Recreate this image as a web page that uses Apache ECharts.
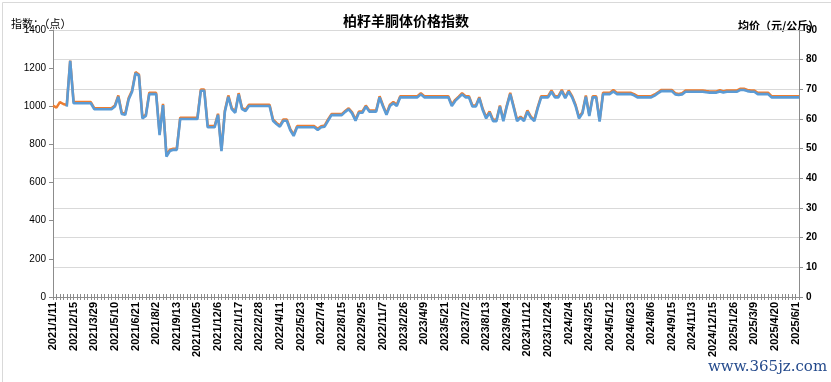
<!DOCTYPE html>
<html>
<head>
<meta charset="utf-8">
<script src="https://cdn.jsdelivr.net/npm/echarts@6/dist/echarts.min.js"></script>
<style>html,body{margin:0;padding:0;background:#fff;}#c{width:831px;height:382px;}</style>
</head>
<body>
<div id="c"></div>
<script>
// Labelled x-axis dates (every 6th category)
const labeledDates = ['2021/1/11','2021/2/15','2021/3/29','2021/5/10','2021/6/21','2021/8/2','2021/9/13','2021/10/25','2021/12/6','2022/1/17','2022/2/28','2022/4/11','2022/5/23','2022/7/4','2022/8/15','2022/9/25','2022/11/7','2023/2/26','2023/4/9','2023/5/21','2023/7/2','2023/8/13','2023/9/24','2023/11/12','2023/12/24','2024/2/4','2024/3/25','2024/5/12','2024/6/23','2024/8/6','2024/9/15','2024/11/3','2024/12/15','2025/1/26','2025/3/9','2025/4/20','2025/6/1'];

// 均价（元/公斤） – right axis
const priceValues = [
null,null,null,null,64.2,79.6,65.3,65.3,65.3,65.3,
65.3,65.3,63.3,63.3,63.3,63.3,63.3,63.3,64.2,67.5,
61.7,61.4,66.6,69.2,75.4,74.6,60.2,61.0,68.4,68.4,
68.4,54.6,64.7,47.3,49.2,49.6,49.6,60.0,60.0,60.0,
60.0,60.0,60.0,69.5,69.5,57.2,57.2,57.2,61.4,49.2,
62.5,67.5,63.3,62.1,68.3,63.3,62.7,64.4,64.4,64.4,
64.4,64.4,64.4,64.4,59.4,58.3,57.4,59.4,59.4,56.3,
54.3,57.2,57.2,57.2,57.2,57.2,57.2,56.3,57.2,57.4,
59.4,61.3,61.3,61.3,61.3,62.4,63.3,61.9,59.4,62.1,
62.1,64.2,62.5,62.5,62.5,67.3,64.2,61.4,64.4,65.3,
64.4,67.3,67.3,67.3,67.3,67.3,67.3,68.3,67.3,67.3,
67.3,67.3,67.3,67.3,67.3,67.3,64.4,66.1,67.2,68.3,
67.3,67.3,64.2,64.2,67.0,63.0,60.2,62.1,59.3,59.3,
64.2,59.3,64.2,68.4,63.9,59.3,60.4,59.3,62.5,60.4,
59.3,63.6,67.3,67.3,67.3,69.2,67.3,67.3,69.4,67.0,
69.2,67.3,64.4,60.2,61.9,67.5,61.0,67.3,67.3,59.1,
68.4,68.4,68.4,69.3,68.4,68.4,68.4,68.4,68.4,68.0,
67.3,67.3,67.3,67.3,67.3,67.9,68.7,69.4,69.4,69.4,
69.4,68.3,68.1,68.3,69.2,69.2,69.2,69.2,69.2,69.2,
69.0,68.9,68.9,68.9,69.3,68.9,69.2,69.2,69.2,69.2,
69.8,69.8,69.4,69.2,69.2,68.4,68.4,68.4,68.4,67.3,
67.3,67.3,67.3,67.3,67.3,67.3,67.3,67.3
];

// 指数（点） – left axis
const indexValues = [
1003,993,1022,1012,1006,1240,1022,1022,1022,1022,
1022,1022,990,990,990,990,990,990,1004,1057,
966,961,1043,1083,1179,1167,943,955,1071,1071,
1071,856,1013,742,772,777,777,940,940,940,
940,940,940,1088,1088,896,896,896,961,772,
978,1057,990,973,1069,990,982,1008,1008,1008,
1008,1008,1008,1008,931,913,899,931,931,882,
851,896,896,896,896,896,896,882,896,899,
931,959,959,959,959,976,990,968,931,973,
973,1004,978,978,978,1053,1004,961,1008,1022,
1008,1053,1053,1053,1053,1053,1053,1069,1053,1053,
1053,1053,1053,1053,1053,1053,1008,1034,1051,1069,
1053,1053,1004,1004,1048,987,943,973,929,929,
1004,929,1004,1071,1000,929,946,929,978,946,
929,996,1053,1053,1053,1083,1053,1053,1086,1048,
1083,1053,1008,943,969,1057,955,1053,1053,925,
1071,1071,1071,1085,1071,1071,1071,1071,1071,1064,
1053,1053,1053,1053,1053,1062,1074,1086,1086,1086,
1086,1069,1065,1069,1083,1083,1083,1083,1083,1083,
1080,1078,1078,1078,1085,1078,1083,1083,1083,1083,
1092,1092,1086,1083,1083,1071,1071,1071,1071,1053,
1053,1053,1053,1053,1053,1053,1053,1053
];

// Build weekly categories from the labelled anchors (6 per label, one extra at the end)
function fmt(d){return d.getFullYear()+'/'+(d.getMonth()+1)+'/'+d.getDate();}
const categories = [];
labeledDates.forEach(function(s, k){
  const p = s.split('/').map(Number);
  const steps = (k === labeledDates.length - 1) ? 2 : 6;
  for (let j = 0; j < steps; j++) {
    categories.push(j === 0 ? s : fmt(new Date(p[0], p[1]-1, p[2] + 7*j)));
  }
});

const FONT = '"Liberation Sans","Noto Sans CJK SC",sans-serif';
const CJK = '"Noto Sans CJK SC",sans-serif';
const axisGray = '#8c8c8c';

const chart = echarts.init(document.getElementById('c'), null, {renderer:'canvas'});
chart.setOption({
  animation: false,
  backgroundColor: '#fff',
  grid: {left: 53, right: 32, top: 30, bottom: 85, containLabel: false},
  title: {
    text: '柏籽羊胴体价格指数', left: 338, top: 9,
    textStyle: {fontFamily: CJK, fontSize: 14, fontWeight: 'bold', color: '#000'}
  },
  graphic: [
    {type:'rect', left:0, top:0, shape:{x:0.5,y:0.5,width:829,height:380}, style:{fill:'none', stroke:'#d9d9d9', lineWidth:1}, silent:true, z:-1},
    {type:'text', left:11, top:18, style:{text:'指数：（点）', font:'11px "Noto Sans CJK SC"', fill:'#000'}},
    {type:'text', left:738, top:20, style:{text:'均价（元/公斤）', font:'bold 11px "Noto Sans CJK SC"', fill:'#000'}},
    {type:'text', left:708, top:360, style:{text:'www.365jz.com', font:'15px "DejaVu Serif"', fill:'#244a8c'}}
  ],
  xAxis: [{
    type: 'category', data: categories, boundaryGap: false,
    axisLine: {lineStyle: {color: axisGray}},
    axisTick: {show: true, interval: 0, length: 3, lineStyle: {color: axisGray}},
    axisLabel: {interval: 5, rotate: 90, margin: 5, fontFamily: FONT, fontSize: 11, fontWeight: 'bold', color: '#000'},
    splitLine: {show: false}
  }, {
    type: 'category', data: categories, boundaryGap: false, position: 'bottom',
    axisLine: {show: false},
    axisTick: {show: true, inside: true, interval: 0, length: 3, lineStyle: {color: axisGray}},
    axisLabel: {show: false},
    splitLine: {show: false}
  }],
  yAxis: [{
    type: 'value', min: 0, max: 1400, interval: 200, position: 'left',
    axisLine: {show: true, lineStyle: {color: axisGray}},
    axisTick: {show: true, length: 4, lineStyle: {color: axisGray}},
    axisLabel: {fontFamily: FONT, fontSize: 10, color: '#000', margin: 7, formatter: function(v){return String(v);}},
    splitLine: {show: false}
  }, {
    type: 'value', min: 0, max: 90, interval: 10, position: 'right',
    axisLine: {show: true, lineStyle: {color: axisGray}},
    axisTick: {show: true, length: 4, lineStyle: {color: axisGray}},
    axisLabel: {fontFamily: FONT, fontSize: 10, fontWeight: 'bold', color: '#000', margin: 7},
    splitLine: {show: true, lineStyle: {color: '#d9d9d9', width: 1}}
  }],
  series: [{
    name: '指数', type: 'line', xAxisIndex: 0, yAxisIndex: 0, data: indexValues,
    symbol: 'none', lineStyle: {color: '#ED7D31', width: 2.5}, itemStyle: {color: '#ED7D31'}, z: 2
  }, {
    name: '均价', type: 'line', xAxisIndex: 0, yAxisIndex: 1, data: priceValues,
    symbol: 'none', connectNulls: false, lineStyle: {color: '#5B9BD5', width: 2.6}, itemStyle: {color: '#5B9BD5'}, z: 3
  }]
});
</script>
</body>
</html>
